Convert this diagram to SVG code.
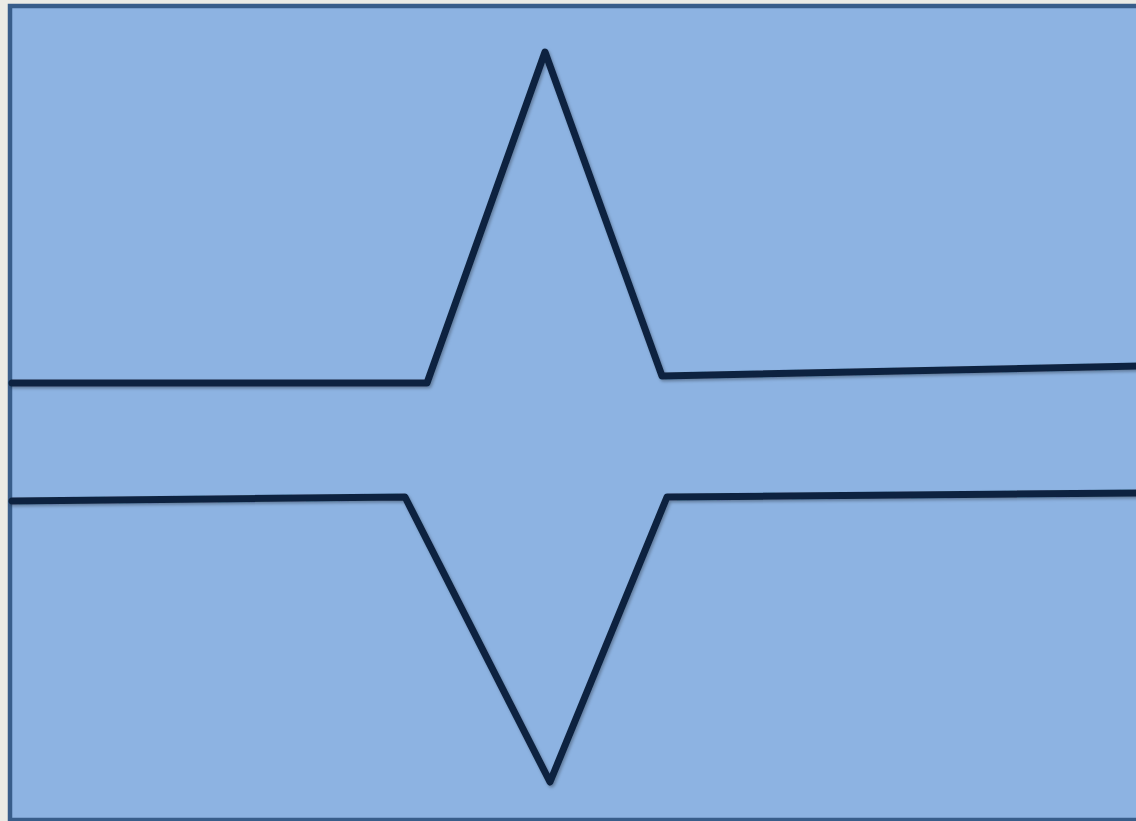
<svg xmlns="http://www.w3.org/2000/svg" width="1136" height="821" viewBox="0 0 1136 821">
<style>
.bg{fill:#EBEBE5}
.panel{fill:#8DB3E2;stroke:#385D8A;stroke-width:4.5}
.wire{fill:none;stroke:#10243F;stroke-width:7;stroke-linejoin:round;stroke-linecap:round}
</style>
<defs>
<filter id="sh" x="-5%" y="-5%" width="110%" height="110%">
<feDropShadow dx="1.5" dy="2" stdDeviation="1.5" flood-color="#000" flood-opacity="0.3"/>
</filter>
</defs>
<rect class="bg" x="0" y="0" width="1136" height="821"/>
<g id="panel">
<rect class="panel" x="10" y="6" width="1140" height="814"/>
</g>
<g id="connectors" filter="url(#sh)">
<polyline class="wire" points="12,383 427,383 545,52 662,376 1140,366"/>
<polyline class="wire" points="12,501 405,497 550,782 667,497 1140,493"/>
</g>
</svg>
